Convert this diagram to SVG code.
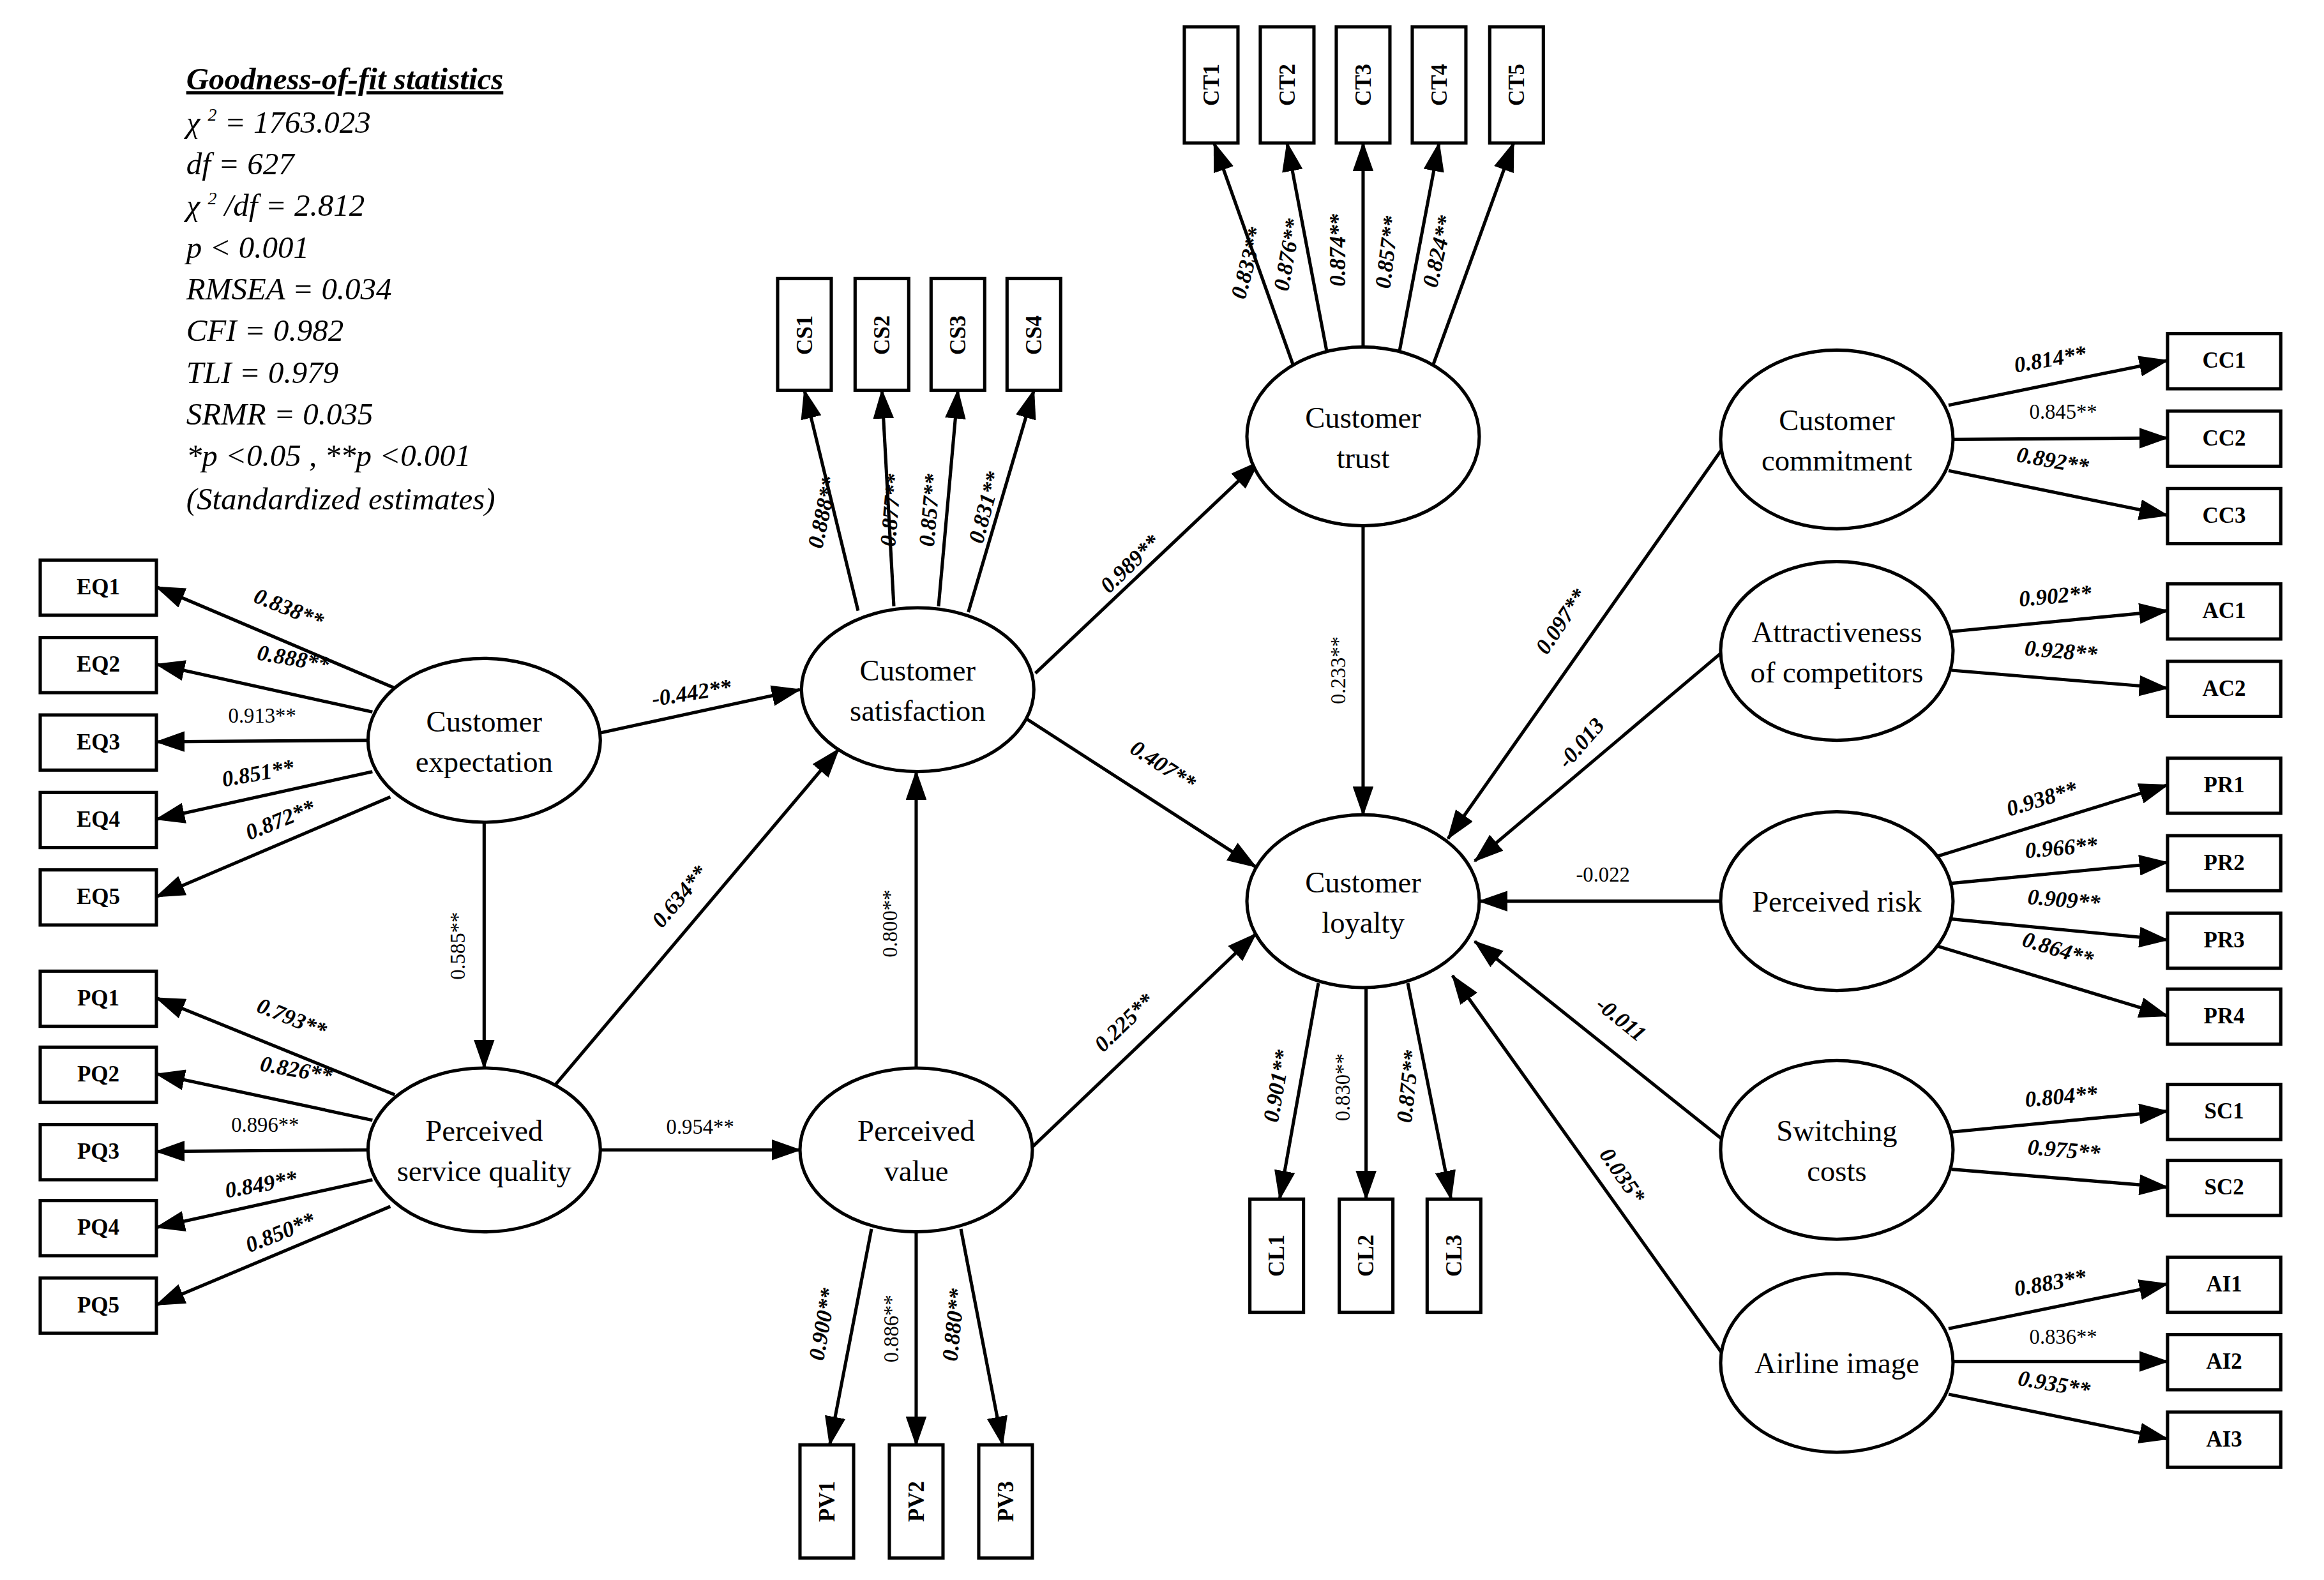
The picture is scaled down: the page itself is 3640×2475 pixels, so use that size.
<svg xmlns="http://www.w3.org/2000/svg" width="3640" height="2475" viewBox="0 0 3640 2475">
<defs>
<marker id="a" markerUnits="userSpaceOnUse" markerWidth="20" markerHeight="14" refX="19" refY="7" orient="auto"><path d="M0,0 L20,7 L0,14 Z" fill="#000"/></marker>
<style>
.e{fill:#fff;stroke:#000;stroke-width:2.2}
.b{fill:#fff;stroke:#000;stroke-width:2.2}
.c line{stroke:#000;stroke-width:2.2;marker-end:url(#a)}
.t{font-family:"Liberation Serif",serif;font-size:20px;text-anchor:middle}
.bl{font-family:"Liberation Serif",serif;font-size:15px;font-weight:bold;text-anchor:middle}
.l{font-family:"Liberation Serif",serif;font-size:15px;font-weight:bold;font-style:italic;text-anchor:middle}
.r{font-family:"Liberation Serif",serif;font-size:14px;text-anchor:middle}
.s{font-family:"Liberation Serif",serif;font-size:21px;font-style:italic}
</style>
</defs>
<rect width="3640" height="2475" fill="#fff"/>
<g transform="scale(2.3333)">
<g id="stats">
<text class="s" x="125" y="60" font-weight="bold" text-decoration="underline">Goodness-of-fit statistics</text>
<text class="s" x="125" y="89">χ <tspan font-size="12" dy="-8">2</tspan><tspan dy="8"> = 1763.023</tspan></text>
<text class="s" x="125" y="117">df = 627</text>
<text class="s" x="125" y="145">χ <tspan font-size="12" dy="-8">2</tspan><tspan dy="8"> /df = 2.812</tspan></text>
<text class="s" x="125" y="173">p &lt; 0.001</text>
<text class="s" x="125" y="201">RMSEA = 0.034</text>
<text class="s" x="125" y="229">CFI = 0.982</text>
<text class="s" x="125" y="257">TLI = 0.979</text>
<text class="s" x="125" y="285">SRMR = 0.035</text>
<text class="s" x="125" y="313">*p &lt;0.05 , **p &lt;0.001</text>
<text class="s" x="125" y="342">(Standardized estimates)</text>
</g>
<g class="c" id="connectors">
<line x1="265" y1="462" x2="105" y2="394"/><line x1="250" y1="478" x2="105" y2="446"/><line x1="247" y1="497" x2="105" y2="498"/><line x1="250" y1="518" x2="105" y2="550"/><line x1="262" y1="535" x2="105" y2="602"/>
<line x1="265" y1="735" x2="105" y2="670"/><line x1="250" y1="752" x2="105" y2="721"/><line x1="247" y1="772" x2="105" y2="773"/><line x1="250" y1="792" x2="105" y2="824"/><line x1="262" y1="810" x2="105" y2="876"/>
<line x1="403" y1="492" x2="537" y2="463"/><line x1="325" y1="552" x2="325" y2="717"/><line x1="373" y1="728" x2="563" y2="503"/><line x1="403" y1="772" x2="537" y2="772"/><line x1="615" y1="717" x2="615" y2="518"/>
<line x1="695" y1="452" x2="845" y2="310"/><line x1="682" y1="478" x2="843" y2="582"/><line x1="693" y1="770" x2="843" y2="627"/><line x1="915" y1="353" x2="915" y2="547"/>
<line x1="1157" y1="300" x2="972" y2="563"/><line x1="1157" y1="437" x2="990" y2="578"/><line x1="1155" y1="605" x2="993" y2="605"/><line x1="1160" y1="768" x2="990" y2="632"/><line x1="1157" y1="910" x2="975" y2="655"/>
<line x1="576" y1="410" x2="540" y2="262"/><line x1="600" y1="407" x2="592" y2="262"/><line x1="630" y1="407" x2="643" y2="262"/><line x1="650" y1="411" x2="694" y2="262"/>
<line x1="868" y1="245" x2="815" y2="96"/><line x1="891" y1="238" x2="864" y2="96"/><line x1="915" y1="233" x2="915" y2="96"/><line x1="939" y1="238" x2="966" y2="96"/><line x1="962" y1="245" x2="1016" y2="96"/>
<line x1="885" y1="660" x2="859" y2="805"/><line x1="917" y1="663" x2="917" y2="805"/><line x1="945" y1="660" x2="974" y2="805"/>
<line x1="585" y1="825" x2="557" y2="970"/><line x1="615" y1="827" x2="615" y2="970"/><line x1="645" y1="825" x2="673" y2="970"/>
<line x1="1308" y1="272" x2="1455" y2="242"/><line x1="1311" y1="295" x2="1455" y2="294"/><line x1="1308" y1="316" x2="1455" y2="346"/>
<line x1="1310" y1="424" x2="1455" y2="410"/><line x1="1310" y1="450" x2="1455" y2="462"/>
<line x1="1300" y1="575" x2="1455" y2="527"/><line x1="1310" y1="593" x2="1455" y2="579"/><line x1="1310" y1="617" x2="1455" y2="631"/><line x1="1300" y1="635" x2="1455" y2="682"/>
<line x1="1310" y1="760" x2="1455" y2="746"/><line x1="1310" y1="785" x2="1455" y2="797"/>
<line x1="1308" y1="892" x2="1455" y2="862"/><line x1="1311" y1="914" x2="1455" y2="914"/><line x1="1308" y1="936" x2="1455" y2="966"/>
</g>
<g id="labels">
<text class="l" transform="translate(192,413) rotate(22)">0.838**</text>
<text class="l" transform="translate(196,447) rotate(10)">0.888**</text>
<text class="r" x="176" y="485">0.913**</text>
<text class="l" transform="translate(174,524) rotate(-10)">0.851**</text>
<text class="l" transform="translate(190,555) rotate(-22)">0.872**</text>
<text class="l" transform="translate(194,688) rotate(22)">0.793**</text>
<text class="l" transform="translate(198,723) rotate(10)">0.826**</text>
<text class="r" x="178" y="760">0.896**</text>
<text class="l" transform="translate(176,800) rotate(-10)">0.849**</text>
<text class="l" transform="translate(190,832) rotate(-22)">0.850**</text>
<text class="l" transform="translate(465,470) rotate(-9)">-0.442**</text>
<text class="r" transform="translate(312,635) rotate(-90)">0.585**</text>
<text class="l" transform="translate(460,605) rotate(-50)">0.634**</text>
<text class="r" x="470" y="761">0.954**</text>
<text class="r" transform="translate(602,620) rotate(-90)">0.800**</text>
<text class="l" transform="translate(762,382) rotate(-44)">0.989**</text>
<text class="l" transform="translate(778,518) rotate(33)">0.407**</text>
<text class="l" transform="translate(758,690) rotate(-44)">0.225**</text>
<text class="r" transform="translate(903,450) rotate(-90)">0.233**</text>
<text class="l" transform="translate(1052,420) rotate(-56)">0.097**</text>
<text class="l" transform="translate(1065,502) rotate(-49)">-0.013</text>
<text class="r" x="1076" y="592">-0.022</text>
<text class="l" transform="translate(1085,688) rotate(39)">-0.011</text>
<text class="l" transform="translate(1085,792) rotate(55)">0.035*</text>
<text class="l" transform="translate(557,345) rotate(-78)">0.888**</text>
<text class="l" transform="translate(603,343) rotate(-85)">0.877**</text>
<text class="l" transform="translate(629,343) rotate(-85)">0.857**</text>
<text class="l" transform="translate(666,342) rotate(-75)">0.831**</text>
<text class="l" transform="translate(842,178) rotate(-75)">0.833**</text>
<text class="l" transform="translate(869,172) rotate(-80)">0.876**</text>
<text class="l" transform="translate(903,168) rotate(-90)">0.874**</text>
<text class="l" transform="translate(936,170) rotate(-83)">0.857**</text>
<text class="l" transform="translate(970,170) rotate(-77)">0.824**</text>
<text class="l" transform="translate(862,730) rotate(-80)">0.901**</text>
<text class="r" transform="translate(906,730) rotate(-90)">0.830**</text>
<text class="l" transform="translate(950,730) rotate(-84)">0.875**</text>
<text class="l" transform="translate(557,890) rotate(-80)">0.900**</text>
<text class="r" transform="translate(603,892) rotate(-90)">0.886**</text>
<text class="l" transform="translate(645,890) rotate(-84)">0.880**</text>
<text class="l" transform="translate(1377,246) rotate(-10)">0.814**</text>
<text class="r" x="1385" y="281">0.845**</text>
<text class="l" transform="translate(1377,314) rotate(10)">0.892**</text>
<text class="l" transform="translate(1380,405) rotate(-5)">0.902**</text>
<text class="l" transform="translate(1383,442) rotate(5)">0.928**</text>
<text class="l" transform="translate(1372,541) rotate(-17)">0.938**</text>
<text class="l" transform="translate(1384,574) rotate(-5)">0.966**</text>
<text class="l" transform="translate(1385,609) rotate(5)">0.909**</text>
<text class="l" transform="translate(1380,642) rotate(17)">0.864**</text>
<text class="l" transform="translate(1384,741) rotate(-5)">0.804**</text>
<text class="l" transform="translate(1385,777) rotate(5)">0.975**</text>
<text class="l" transform="translate(1377,866) rotate(-10)">0.883**</text>
<text class="r" x="1385" y="902">0.836**</text>
<text class="l" transform="translate(1378,934) rotate(10)">0.935**</text>
</g>
<g id="ce"><ellipse class="e" cx="325" cy="497" rx="78" ry="55"/><text class="t" x="325" y="491">Customer</text><text class="t" x="325" y="518">expectation</text></g>
<g id="psq"><ellipse class="e" cx="325" cy="772" rx="78" ry="55"/><text class="t" x="325" y="766">Perceived</text><text class="t" x="325" y="793">service quality</text></g>
<g id="cs"><ellipse class="e" cx="616" cy="463" rx="78" ry="55"/><text class="t" x="616" y="457">Customer</text><text class="t" x="616" y="484">satisfaction</text></g>
<g id="pv"><ellipse class="e" cx="615" cy="772" rx="78" ry="55"/><text class="t" x="615" y="766">Perceived</text><text class="t" x="615" y="793">value</text></g>
<g id="ct"><ellipse class="e" cx="915" cy="293" rx="78" ry="60"/><text class="t" x="915" y="287">Customer</text><text class="t" x="915" y="314">trust</text></g>
<g id="cl"><ellipse class="e" cx="915" cy="605" rx="78" ry="58"/><text class="t" x="915" y="599">Customer</text><text class="t" x="915" y="626">loyalty</text></g>
<g id="cc"><ellipse class="e" cx="1233" cy="295" rx="78" ry="60"/><text class="t" x="1233" y="289">Customer</text><text class="t" x="1233" y="316">commitment</text></g>
<g id="ac"><ellipse class="e" cx="1233" cy="437" rx="78" ry="60"/><text class="t" x="1233" y="431">Attractiveness</text><text class="t" x="1233" y="458">of competitors</text></g>
<g id="pr"><ellipse class="e" cx="1233" cy="605" rx="78" ry="60"/><text class="t" x="1233" y="612">Perceived risk</text></g>
<g id="sc"><ellipse class="e" cx="1233" cy="772" rx="78" ry="60"/><text class="t" x="1233" y="766">Switching</text><text class="t" x="1233" y="793">costs</text></g>
<g id="ai"><ellipse class="e" cx="1233" cy="915" rx="78" ry="60"/><text class="t" x="1233" y="922">Airline image</text></g>
<g id="leftboxes">
<rect class="b" x="27" y="376" width="78" height="37"/><text class="bl" x="66" y="399">EQ1</text>
<rect class="b" x="27" y="428" width="78" height="37"/><text class="bl" x="66" y="451">EQ2</text>
<rect class="b" x="27" y="480" width="78" height="37"/><text class="bl" x="66" y="503">EQ3</text>
<rect class="b" x="27" y="532" width="78" height="37"/><text class="bl" x="66" y="555">EQ4</text>
<rect class="b" x="27" y="584" width="78" height="37"/><text class="bl" x="66" y="607">EQ5</text>
<rect class="b" x="27" y="652" width="78" height="37"/><text class="bl" x="66" y="675">PQ1</text>
<rect class="b" x="27" y="703" width="78" height="37"/><text class="bl" x="66" y="726">PQ2</text>
<rect class="b" x="27" y="755" width="78" height="37"/><text class="bl" x="66" y="778">PQ3</text>
<rect class="b" x="27" y="806" width="78" height="37"/><text class="bl" x="66" y="829">PQ4</text>
<rect class="b" x="27" y="858" width="78" height="37"/><text class="bl" x="66" y="881">PQ5</text>
</g>
<g id="vboxes">
<rect class="b" x="522" y="187" width="36" height="75"/><text class="bl" transform="translate(545,225) rotate(-90)">CS1</text>
<rect class="b" x="574" y="187" width="36" height="75"/><text class="bl" transform="translate(597,225) rotate(-90)">CS2</text>
<rect class="b" x="625" y="187" width="36" height="75"/><text class="bl" transform="translate(648,225) rotate(-90)">CS3</text>
<rect class="b" x="676" y="187" width="36" height="75"/><text class="bl" transform="translate(699,225) rotate(-90)">CS4</text>
<rect class="b" x="795" y="18" width="36" height="78"/><text class="bl" transform="translate(818,57) rotate(-90)">CT1</text>
<rect class="b" x="846" y="18" width="36" height="78"/><text class="bl" transform="translate(869,57) rotate(-90)">CT2</text>
<rect class="b" x="897" y="18" width="36" height="78"/><text class="bl" transform="translate(920,57) rotate(-90)">CT3</text>
<rect class="b" x="948" y="18" width="36" height="78"/><text class="bl" transform="translate(971,57) rotate(-90)">CT4</text>
<rect class="b" x="1000" y="18" width="36" height="78"/><text class="bl" transform="translate(1023,57) rotate(-90)">CT5</text>
<rect class="b" x="839" y="805" width="36" height="76"/><text class="bl" transform="translate(862,843) rotate(-90)">CL1</text>
<rect class="b" x="899" y="805" width="36" height="76"/><text class="bl" transform="translate(922,843) rotate(-90)">CL2</text>
<rect class="b" x="958" y="805" width="36" height="76"/><text class="bl" transform="translate(981,843) rotate(-90)">CL3</text>
<rect class="b" x="537" y="970" width="36" height="76"/><text class="bl" transform="translate(560,1008) rotate(-90)">PV1</text>
<rect class="b" x="597" y="970" width="36" height="76"/><text class="bl" transform="translate(620,1008) rotate(-90)">PV2</text>
<rect class="b" x="657" y="970" width="36" height="76"/><text class="bl" transform="translate(680,1008) rotate(-90)">PV3</text>
</g>
<g id="rightboxes">
<rect class="b" x="1455" y="224" width="76" height="37"/><text class="bl" x="1493" y="247">CC1</text>
<rect class="b" x="1455" y="276" width="76" height="37"/><text class="bl" x="1493" y="299">CC2</text>
<rect class="b" x="1455" y="328" width="76" height="37"/><text class="bl" x="1493" y="351">CC3</text>
<rect class="b" x="1455" y="392" width="76" height="37"/><text class="bl" x="1493" y="415">AC1</text>
<rect class="b" x="1455" y="444" width="76" height="37"/><text class="bl" x="1493" y="467">AC2</text>
<rect class="b" x="1455" y="509" width="76" height="37"/><text class="bl" x="1493" y="532">PR1</text>
<rect class="b" x="1455" y="561" width="76" height="37"/><text class="bl" x="1493" y="584">PR2</text>
<rect class="b" x="1455" y="613" width="76" height="37"/><text class="bl" x="1493" y="636">PR3</text>
<rect class="b" x="1455" y="664" width="76" height="37"/><text class="bl" x="1493" y="687">PR4</text>
<rect class="b" x="1455" y="728" width="76" height="37"/><text class="bl" x="1493" y="751">SC1</text>
<rect class="b" x="1455" y="779" width="76" height="37"/><text class="bl" x="1493" y="802">SC2</text>
<rect class="b" x="1455" y="844" width="76" height="37"/><text class="bl" x="1493" y="867">AI1</text>
<rect class="b" x="1455" y="896" width="76" height="37"/><text class="bl" x="1493" y="919">AI2</text>
<rect class="b" x="1455" y="948" width="76" height="37"/><text class="bl" x="1493" y="971">AI3</text>
</g>
</g>
</svg>
